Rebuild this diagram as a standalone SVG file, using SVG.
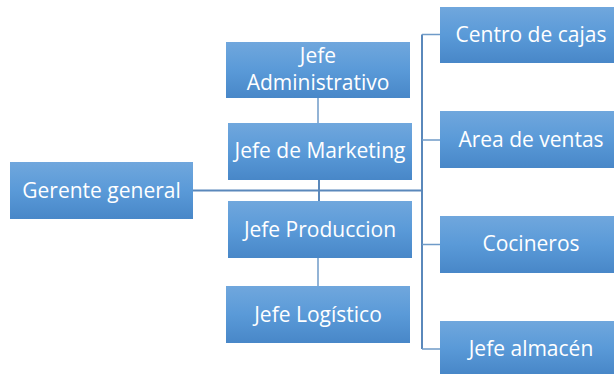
<svg xmlns="http://www.w3.org/2000/svg" width="614" height="374" viewBox="0 0 614 374">
<defs>
<linearGradient id="g" x1="0" y1="0" x2="0" y2="1">
<stop offset="0" stop-color="#70a7dd"/>
<stop offset="0.5" stop-color="#5a9ad8"/>
<stop offset="1" stop-color="#4887c8"/>
</linearGradient>
<style>
.box{fill:url(#g);}
.t{font-family:"Open Sans","Liberation Sans",sans-serif;font-size:21px;fill:#ffffff;text-anchor:middle;}
.c{stroke:#5a88bb;stroke-width:2;fill:none;}
.c2{stroke:#6f9bc8;stroke-width:1.5;fill:none;}
</style>
</defs>
<rect width="614" height="374" fill="#ffffff"/>
<g id="connectors">
<path class="c2" d="M318 98V123"/>
<path class="c2" d="M318 258V286"/>
<path class="c" d="M319 180V201"/>
<path class="c" d="M193 190.5H422"/>
<path class="c" d="M422 34.5V349"/>
<path class="c2" d="M422 34.5H440M422 140H440M422 244.5H440M422 349H440"/>
</g>
<g id="gerente"><rect class="box" x="10" y="162" width="183" height="57"/><text class="t" x="101.5" y="198">Gerente general</text></g>
<g id="admin"><rect class="box" x="226" y="42" width="184" height="56"/><text class="t" x="318" y="63">Jefe</text><text class="t" x="318" y="90">Administrativo</text></g>
<g id="marketing"><rect class="box" x="228" y="123" width="184" height="57"/><text class="t" x="320" y="158">Jefe de Marketing</text></g>
<g id="produccion"><rect class="box" x="228" y="201" width="184" height="57"/><text class="t" x="320" y="237">Jefe Produccion</text></g>
<g id="logistico"><rect class="box" x="226" y="286" width="184" height="57"/><text class="t" x="318" y="322">Jefe Logístico</text></g>
<g id="cajas"><rect class="box" x="440" y="7" width="182" height="56"/><text class="t" x="531" y="42">Centro de cajas</text></g>
<g id="ventas"><rect class="box" x="440" y="111" width="182" height="57"/><text class="t" x="531" y="147">Area de ventas</text></g>
<g id="cocineros"><rect class="box" x="440" y="216" width="182" height="57"/><text class="t" x="531" y="251">Cocineros</text></g>
<g id="almacen"><rect class="box" x="440" y="321" width="182" height="53"/><text class="t" x="531" y="356">Jefe almacén</text></g>
</svg>
